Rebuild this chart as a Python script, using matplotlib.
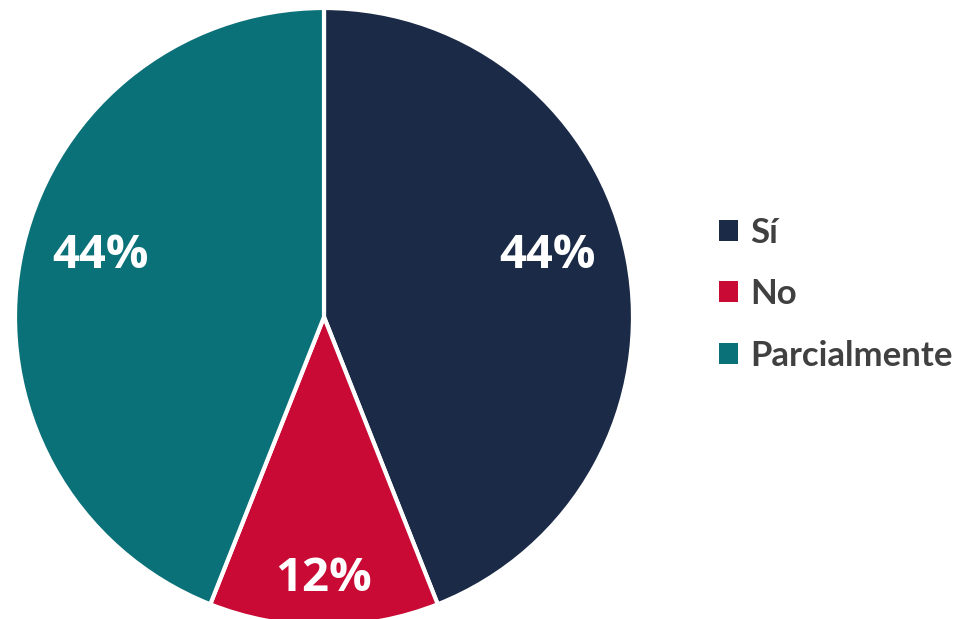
import matplotlib
matplotlib.use("Agg")
import matplotlib.pyplot as plt
import numpy as np

categories = ["Sí", "No", "Parcialmente"]
values = [44, 12, 44]
colors = ["#1b2a47", "#c80a35", "#0b7179"]
label_dist = [0.75, 0.845, 0.75]
label_shift = [4.7, 0.0, -4.5]

fig = plt.figure(figsize=(9.77, 6.19), dpi=100)
r_px = 309
cx, cy = 324, 317
W, H = 977, 619
ax = fig.add_axes([(cx - r_px) / W, 1 - (cy + r_px) / H, 2 * r_px / W, 2 * r_px / H])

wedges, texts, autotexts = ax.pie(
    values, colors=colors, startangle=90, counterclock=False,
    autopct=lambda p: f"{p:.0f}%", pctdistance=0.78,
    wedgeprops=dict(edgecolor="white", linewidth=3),
    textprops=dict(color="white", fontsize=34, fontweight="bold", family=["Open Sans", "DejaVu Sans"]),
    radius=1.0,
)
for w, t, d, s in zip(wedges, autotexts, label_dist, label_shift):
    ang = np.deg2rad((w.theta1 + w.theta2) / 2 + s)
    t.set_position((d * np.cos(ang), d * np.sin(ang)))
ax.set_xlim(-1, 1)
ax.set_ylim(-1, 1)
ax.set_aspect("auto")
ax.axis("off")

leg = fig.legend(wedges, categories, loc="center left", bbox_to_anchor=(0.704, 0.525),
                 frameon=False, handlelength=0.55, handleheight=0.55, handletextpad=0.35,
                 labelspacing=0.85, prop=dict(family=["Lato", "DejaVu Sans"], size=25, weight="bold"))
for t in leg.get_texts():
    t.set_color("#404040")
for h in leg.legend_handles:
    h.set_edgecolor("none")

fig.savefig("out.png", dpi=100, facecolor="white")
